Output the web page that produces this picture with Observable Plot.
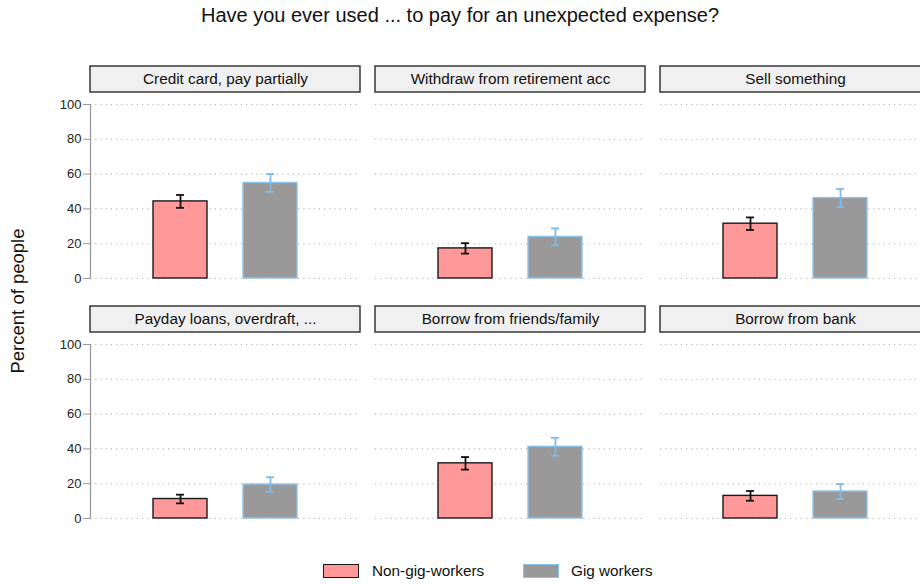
<!DOCTYPE html>
<html><head><meta charset="utf-8">
<script src="https://cdn.jsdelivr.net/npm/d3@7"></script>
<script src="https://cdn.jsdelivr.net/npm/@observablehq/plot@0.6"></script>
<style>
html,body{margin:0;padding:0;background:#fff;width:920px;height:585px;overflow:hidden;font-family:"Liberation Sans",Arial,sans-serif;color:#111;}
#wrap{position:relative;width:920px;height:585px;}
#chart{position:absolute;left:0;top:0;}
.title{position:absolute;left:0;width:920px;top:5px;text-align:center;font-size:20px;line-height:20px;}
.ylab{position:absolute;left:18px;top:301px;transform:translate(-50%,-50%) rotate(-90deg);font-size:18.5px;white-space:nowrap;line-height:1;}
.sw{position:absolute;top:564px;width:36px;height:14px;box-sizing:border-box;}
.lt{position:absolute;top:563px;font-size:15.3px;line-height:16px;white-space:nowrap;}
</style></head>
<body><div id="wrap">
<div id="chart"></div>
<div class="title" id="title"></div>
<div class="ylab" id="ylab"></div>
<div id="legend"></div>
</div>
<script>
const titleText = "Have you ever used ... to pay for an unexpected expense?";
const yLabel = "Percent of people";
const categories = ["Credit card, pay partially","Withdraw from retirement acc","Sell something","Payday loans, overdraft, ...","Borrow from friends/family","Borrow from bank"];
const panelCol = [0,1,2,0,1,2];
const panelRow = [0,0,0,1,1,1];
const groups = ["Non-gig-workers","Gig workers"];
const nonGig = [44.3, 17.3, 31.5, 11.2, 31.7, 13.0];
const nonGigErr = [3.7, 3.0, 3.6, 2.5, 3.6, 2.8];
const gig = [54.9, 23.9, 46.2, 19.5, 41.2, 15.5];
const gigErr = [5.1, 4.9, 5.2, 4.2, 5.2, 4.3];
const yTicks = [0,20,40,60,80,100];

const groupFill = ["#ff9999","#999999"];
const groupStroke = ["#1a1a1a","#8cc3ea"];
const errStroke = ["#111111","#7fbbe6"];

const panels = categories.map((c,i)=>({cat:c,col:panelCol[i],row:panelRow[i]}));
const series = [nonGig, gig];
const errs = [nonGigErr, gigErr];
const byGroup = groups.map((g,k)=>categories.map((c,i)=>({
  cat:c, col:panelCol[i], row:panelRow[i], group:g,
  value:series[k][i], lo:series[k][i]-errs[k][i], hi:series[k][i]+errs[k][i]
})));

const marks = [
  Plot.gridY(yTicks, {stroke:"#b5b5b5", strokeOpacity:1, strokeDasharray:"1.2,4", strokeWidth:1.1}),
  Plot.rect(panels, {fx:"col", fy:"row", y1:100, y2:100, insetTop:-38, insetBottom:12, fill:"#f0f0f0", stroke:"#2a2a2a", strokeWidth:1.4}),
  Plot.text(panels, {fx:"col", fy:"row", text:"cat", frameAnchor:"top", dy:-25, lineAnchor:"middle", fontSize:15.3, fill:"#111"}),
];
groups.forEach((g,k)=>{
  const d = byGroup[k];
  marks.push(Plot.barY(d, {fx:"col", fy:"row", x:"group", y:"value", fill:groupFill[k], stroke:groupStroke[k], strokeWidth:1.4}));
  marks.push(Plot.ruleX(d, {fx:"col", fy:"row", x:"group", y1:"lo", y2:"hi", stroke:errStroke[k], strokeWidth:1.8}));
  marks.push(Plot.tickY(d, {fx:"col", fy:"row", x:"group", y:"hi", stroke:errStroke[k], strokeWidth:1.8, insetLeft:23, insetRight:23}));
  marks.push(Plot.tickY(d, {fx:"col", fy:"row", x:"group", y:"lo", stroke:errStroke[k], strokeWidth:1.8, insetLeft:23, insetRight:23}));
});
marks.push(Plot.axisY(yTicks, {tickSize:7, tickPadding:2, stroke:"#999", fontSize:13, fill:"#222", label:null}));
marks.push(Plot.frame({anchor:"left", stroke:"#999", strokeWidth:1.3, facetAnchor:"left"}));

const chart = Plot.plot({
  width:920, height:585,
  marginLeft:90, marginRight:-10, marginTop:104, marginBottom:67,
  style:{fontFamily:"'Liberation Sans', Arial, sans-serif", background:"transparent", overflow:"hidden"},
  fx:{domain:[0,1,2], axis:null, paddingInner:15/285, paddingOuter:0},
  fy:{domain:[0,1], axis:null, paddingInner:66/240, paddingOuter:0},
  x:{domain:groups, axis:null, paddingInner:0.4, paddingOuter:0.7},
  y:{domain:[0,100]},
  marks
});
document.getElementById("chart").appendChild(chart);
document.getElementById("title").textContent = titleText;
document.getElementById("ylab").textContent = yLabel;

const legend = document.getElementById("legend");
const swX = [323, 523], txX = [372, 571];
groups.forEach((g,k)=>{
  const s = document.createElement("div");
  s.className = "sw";
  s.style.left = swX[k]+"px";
  s.style.background = groupFill[k];
  s.style.border = "1.5px solid " + groupStroke[k];
  legend.appendChild(s);
  const t = document.createElement("div");
  t.className = "lt";
  t.style.left = txX[k]+"px";
  t.textContent = g;
  legend.appendChild(t);
});
</script>
</body></html>
